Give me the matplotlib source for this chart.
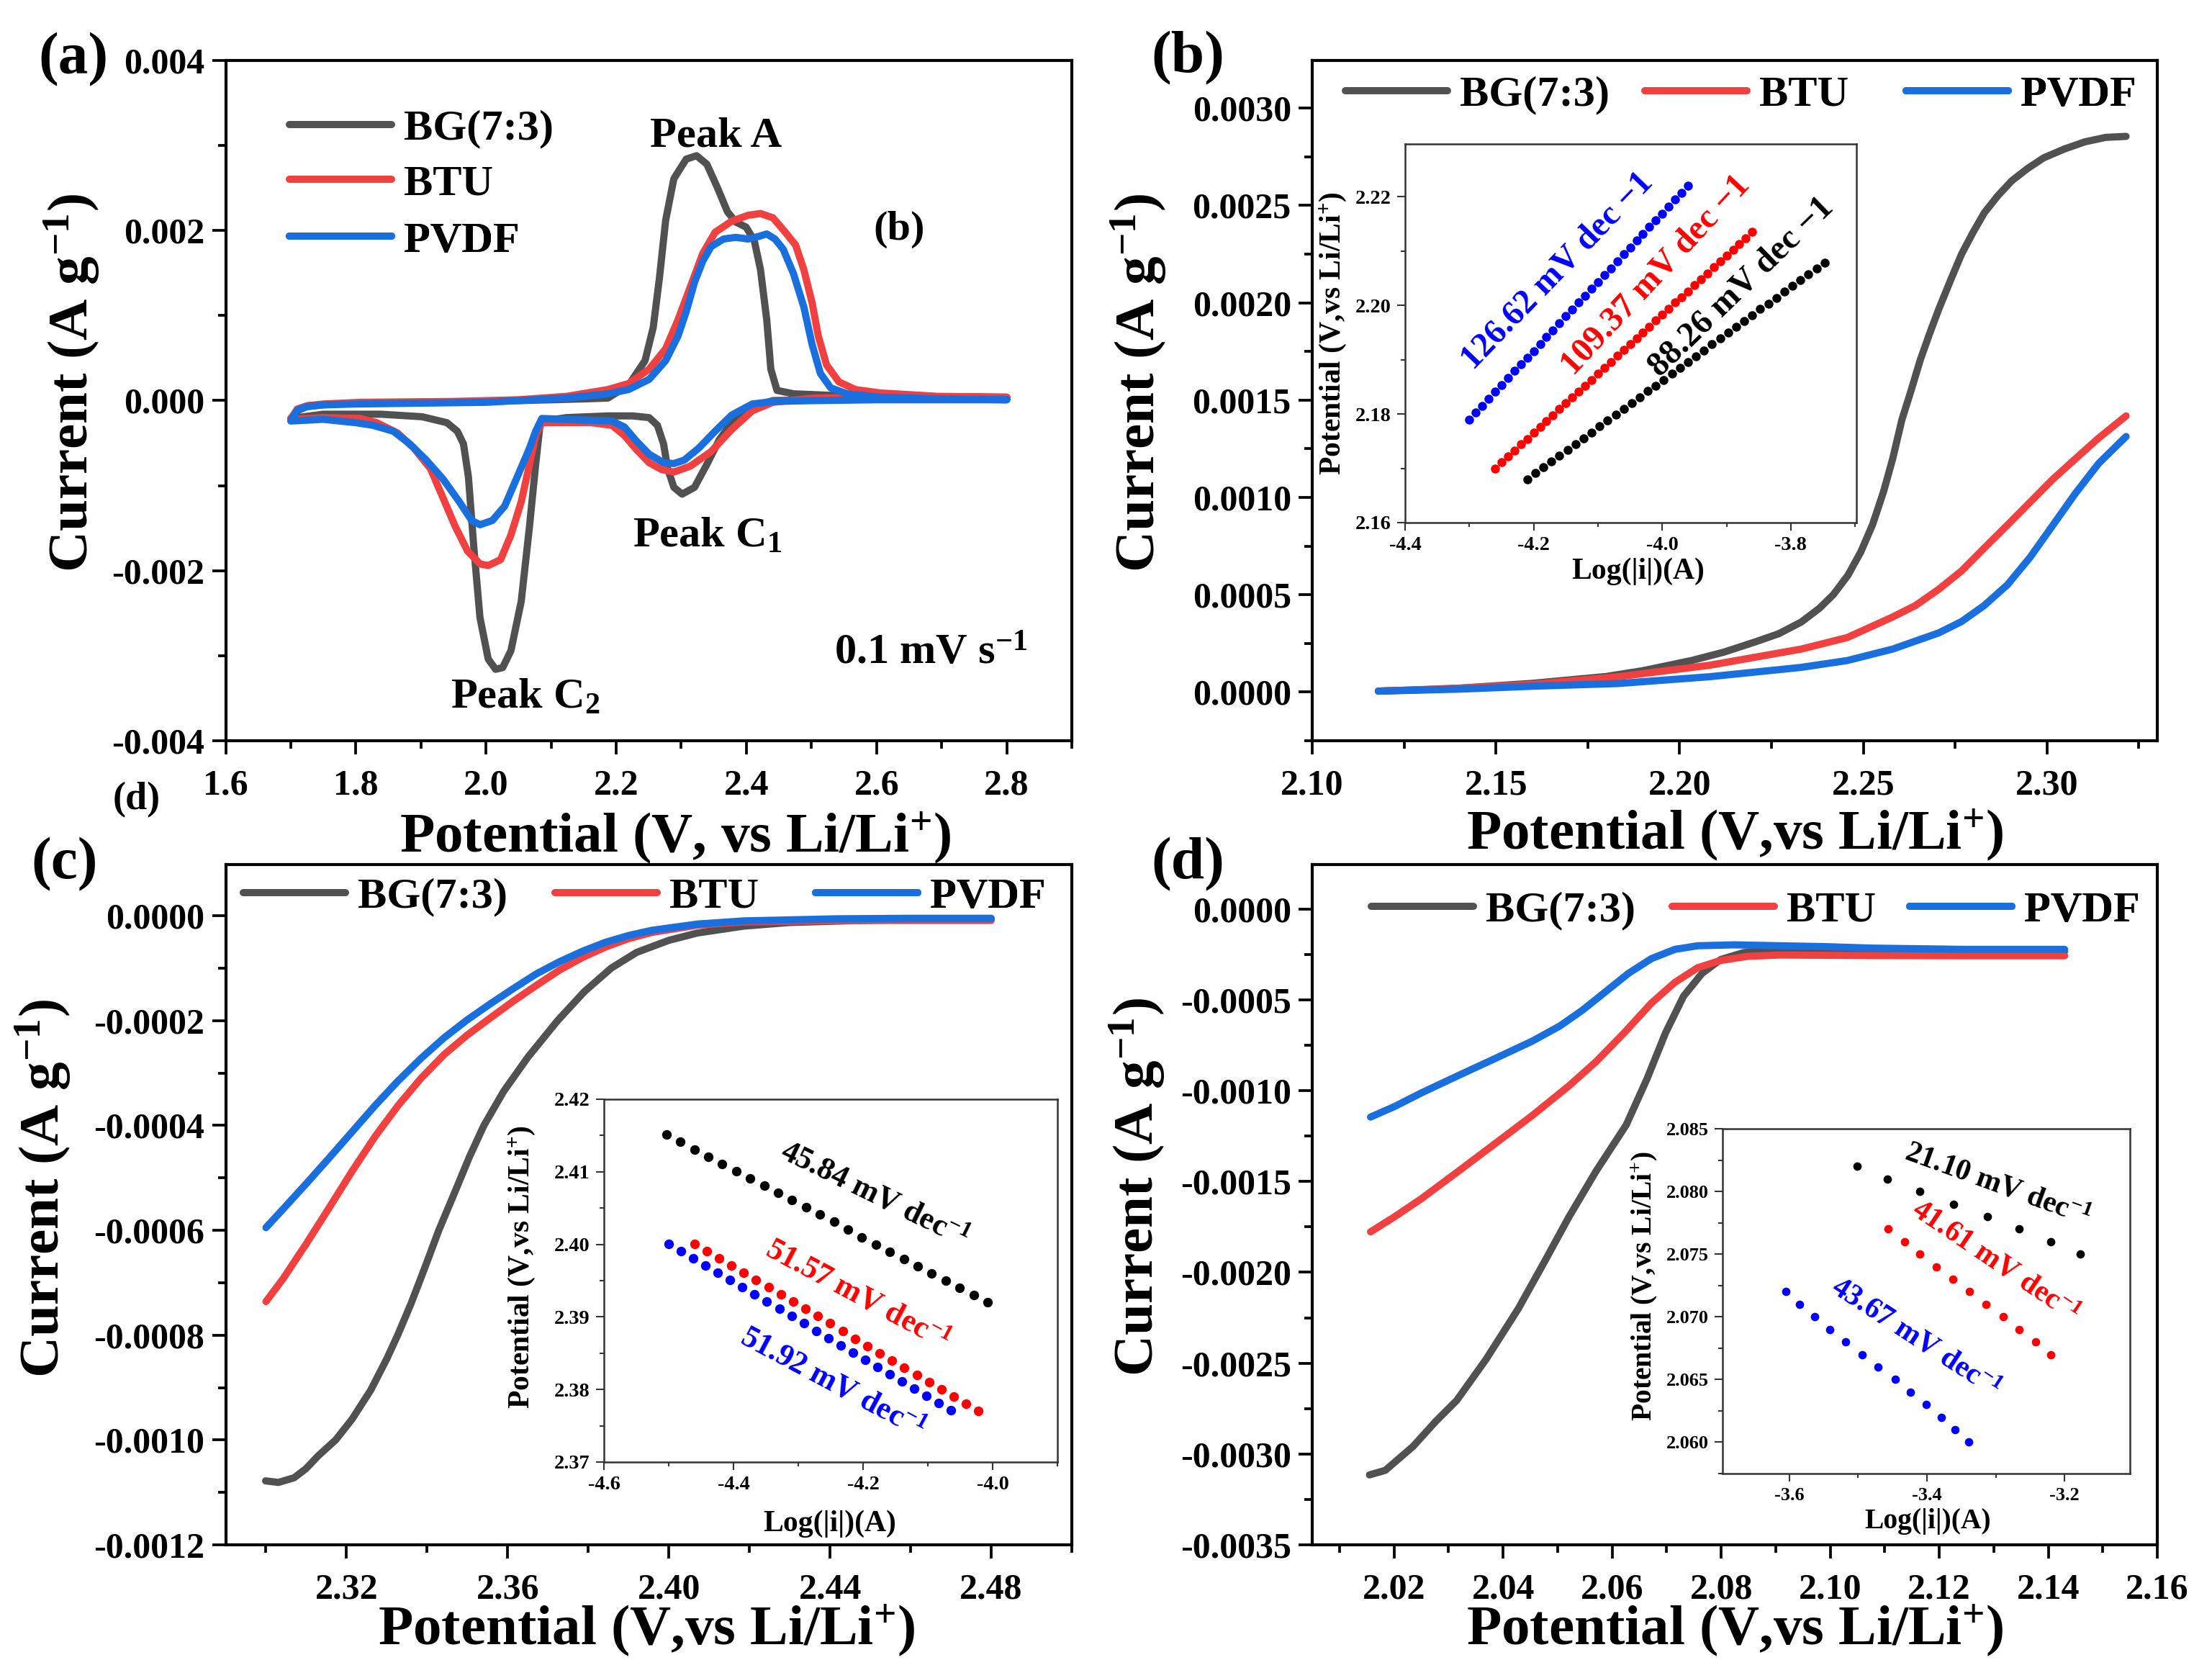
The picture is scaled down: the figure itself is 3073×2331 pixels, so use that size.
import matplotlib
matplotlib.use('Agg')
import matplotlib.pyplot as plt
from matplotlib.ticker import MultipleLocator, FuncFormatter

# ---------------- data ----------------
# (a) CV curves: cathodic sweep (2.8 -> 1.7 V) followed by anodic sweep (1.7 -> 2.8 V)
a_bg_v = [2.800, 2.600, 2.500, 2.4408, 2.4091, 2.3774, 2.3584, 2.3393, 2.3203, 2.3013, 2.2886, 2.2791,
          2.2728, 2.2633, 2.2506, 2.2252, 2.1872, 2.1238, 2.0858, 2.0826, 2.0763, 2.0668, 2.0541, 2.0383,
          2.0256, 2.0148, 2.0034, 1.9907, 1.9812, 1.9730, 1.9654, 1.9559, 1.9400, 1.9020, 1.8386, 1.7500,
          1.7000,
          1.7100, 1.7250, 1.7500, 1.8000, 1.9000, 2.0000, 2.1000, 2.1500, 2.1872, 2.2189, 2.2443, 2.2569,
          2.2664, 2.2760, 2.2886, 2.3076, 2.3235, 2.3393, 2.3552, 2.3710, 2.3837, 2.3996, 2.4122, 2.4217,
          2.4313, 2.4376, 2.4471, 2.4725, 2.5675, 2.7000, 2.8000]
a_bg_i = [0.00002, 0.00002, 0.00001, 0.0, -0.00007, -0.00026, -0.00046, -0.00075, -0.00102, -0.00110,
          -0.00102, -0.00080, -0.00051, -0.00029, -0.00020, -0.00018, -0.00018, -0.00020, -0.00024, -0.00031,
          -0.00075, -0.00148, -0.00236, -0.00294, -0.00314, -0.00316, -0.00304, -0.00255, -0.00172, -0.00090,
          -0.00051, -0.00036, -0.00026, -0.00019, -0.00016, -0.00016, -0.00021,
          -0.00012, -0.00007, -0.00005, -0.00003, -0.00002, -0.00001, 0.00001, 0.00002, 0.00003, 0.00018,
          0.00047, 0.00086, 0.00144, 0.00212, 0.00261, 0.00284, 0.00288, 0.00278, 0.00251, 0.00222, 0.00210,
          0.00204, 0.00188, 0.00154, 0.00095, 0.00037, 0.00012, 0.00008, 0.00005, 0.00003, 0.00002]

a_btu_v = [2.800, 2.600, 2.5042, 2.4408, 2.4091, 2.3774, 2.3457, 2.3140, 2.2886, 2.2696, 2.2506, 2.2316,
           2.2126, 2.1935, 2.1619, 2.1238, 2.0858, 2.0763, 2.0668, 2.0541, 2.0383, 2.0224, 2.0034, 1.9907,
           1.9717, 1.9527, 1.9337, 1.9146, 1.8893, 1.8639, 1.8322, 1.8069, 1.7500, 1.7000,
           1.7100, 1.7250, 1.7500, 1.8069, 1.9500, 2.0500, 2.1238, 2.1872, 2.2189, 2.2506, 2.2760, 2.2950,
           2.3140, 2.3330, 2.3520, 2.3774, 2.4027, 2.4217, 2.4408, 2.4598, 2.4756, 2.4883, 2.5010, 2.5105,
           2.5232, 2.5422, 2.5675, 2.6056, 2.6943, 2.8000]
a_btu_i = [0.00004, 0.00004, 0.00003, -0.00002, -0.00012, -0.00034, -0.00060, -0.00077, -0.00084, -0.00081,
           -0.00073, -0.00058, -0.00041, -0.00029, -0.00026, -0.00026, -0.00026, -0.00041, -0.00075, -0.00119,
           -0.00158, -0.00187, -0.00194, -0.00192, -0.00177, -0.00148, -0.00114, -0.00080, -0.00056, -0.00038,
           -0.00026, -0.00021, -0.00020, -0.00022,
           -0.00010, -0.00006, -0.00004, -0.00002, -0.00001, 0.00001, 0.00005, 0.00013, 0.00020, 0.00037,
           0.00061, 0.00095, 0.00134, 0.00173, 0.00198, 0.00211, 0.00218, 0.00220, 0.00215, 0.00198, 0.00183,
           0.00154, 0.00115, 0.00076, 0.00042, 0.00022, 0.00013, 0.00009, 0.00005, 0.00004]

a_pvdf_v = [2.800, 2.600, 2.5042, 2.4408, 2.4091, 2.3774, 2.3520, 2.3267, 2.3045, 2.2886, 2.2728, 2.2506,
            2.2316, 2.2126, 2.1935, 2.1555, 2.0858, 2.0763, 2.0668, 2.0478, 2.0287, 2.0097, 1.9907, 1.9780,
            1.9590, 1.9337, 1.9083, 1.8830, 1.8576, 1.8259, 1.8000, 1.7500, 1.7000,
            1.7100, 1.7250, 1.7500, 1.8000, 2.0000, 2.1238, 2.1872, 2.2189, 2.2506, 2.2760, 2.2950, 2.3077,
            2.3203, 2.3330, 2.3457, 2.3647, 2.3837, 2.4027, 2.4186, 2.4313, 2.4440, 2.4566, 2.4725, 2.4883,
            2.5010, 2.5137, 2.5295, 2.5549, 2.6056, 2.7000, 2.8000]
a_pvdf_i = [0.00001, 0.00001, 0.0, -0.00001, -0.00004, -0.00017, -0.00036, -0.00056, -0.00070, -0.00074,
            -0.00073, -0.00063, -0.00048, -0.00031, -0.00024, -0.00023, -0.00021, -0.00036, -0.00056, -0.00090,
            -0.00124, -0.00141, -0.00146, -0.00141, -0.00119, -0.00092, -0.00070, -0.00051, -0.00036, -0.00029,
            -0.00026, -0.00022, -0.00024,
            -0.00011, -0.00007, -0.00005, -0.00004, -0.00002, 0.00003, 0.00008, 0.00013, 0.00025, 0.00047,
            0.00076, 0.00105, 0.00139, 0.00164, 0.00181, 0.00190, 0.00192, 0.00190, 0.00193, 0.00196, 0.00190,
            0.00178, 0.00149, 0.00110, 0.00066, 0.00032, 0.00015, 0.00008, 0.00004, 0.00002, 0.00001]

# (b) anodic LSV
b_bg_v = [2.118, 2.130, 2.140, 2.160, 2.180, 2.190, 2.2032, 2.2120, 2.2206, 2.2270, 2.2331, 2.2380, 2.2418,
          2.2458, 2.2493, 2.2525, 2.2555, 2.2580, 2.2605, 2.2630, 2.2655, 2.2680, 2.2705, 2.2736, 2.2767,
          2.2798, 2.2829, 2.2866, 2.2904, 2.2947, 2.2991, 2.3047, 2.3103, 2.3160, 2.3215]
b_bg_i = [0.000005, 0.000012, 0.00002, 0.000045, 0.00008, 0.00011, 0.000162, 0.000205, 0.000258, 0.00030,
          0.00036, 0.00043, 0.00050, 0.00060, 0.00072, 0.00086, 0.00103, 0.00120, 0.00140, 0.00155, 0.001707,
          0.00184, 0.001966, 0.00211, 0.002249, 0.00236, 0.002462, 0.00255, 0.002627, 0.00269, 0.002745,
          0.00279, 0.002827, 0.00285, 0.002855]
b_btu_v = [2.118, 2.140, 2.160, 2.1833, 2.2082, 2.2331, 2.2456, 2.2580, 2.2642, 2.2705, 2.2767, 2.2829,
           2.2892, 2.2954, 2.3016, 2.3078, 2.3141, 2.3215]
b_btu_i = [0.000005, 0.00002, 0.00004, 0.000079, 0.000138, 0.000221, 0.00028, 0.000386, 0.000445, 0.000528,
           0.000622, 0.00074, 0.000858, 0.000976, 0.001094, 0.0012, 0.001306, 0.001419]
b_pvdf_v = [2.118, 2.140, 2.160, 2.1833, 2.2082, 2.2331, 2.2456, 2.2580, 2.2705, 2.2767, 2.2829, 2.2892,
            2.2954, 2.3016, 2.3078, 2.3141, 2.3215]
b_pvdf_i = [0.000005, 0.000015, 0.00003, 0.000044, 0.000079, 0.000127, 0.000162, 0.000221, 0.000304,
            0.000362, 0.000445, 0.000551, 0.000693, 0.000858, 0.001023, 0.001176, 0.001313]

# (b) inset Tafel
bi_blue_x = [-4.30, -4.29, -4.28, -4.27, -4.26, -4.25, -4.24, -4.23, -4.22, -4.21, -4.20, -4.19, -4.18,
             -4.17, -4.16, -4.15, -4.14, -4.13, -4.12, -4.11, -4.10, -4.09, -4.08, -4.07, -4.06, -4.05,
             -4.04, -4.03, -4.02, -4.01, -4.00, -3.99, -3.98, -3.97, -3.96]
bi_blue_y = [2.1790, 2.1803, 2.1815, 2.1828, 2.1841, 2.1853, 2.1866, 2.1879, 2.1891, 2.1904, 2.1916, 2.1929,
             2.1942, 2.1954, 2.1967, 2.1980, 2.1992, 2.2005, 2.2018, 2.2030, 2.2043, 2.2056, 2.2068, 2.2081,
             2.2094, 2.2106, 2.2119, 2.2131, 2.2144, 2.2157, 2.2169, 2.2182, 2.2195, 2.2207, 2.2220]
bi_red_x = [-4.26, -4.25, -4.24, -4.23, -4.22, -4.21, -4.20, -4.19, -4.18, -4.17, -4.16, -4.15, -4.14,
            -4.13, -4.12, -4.11, -4.10, -4.09, -4.08, -4.07, -4.06, -4.05, -4.04, -4.03, -4.02, -4.01,
            -4.00, -3.99, -3.98, -3.97, -3.96, -3.95, -3.94, -3.93, -3.92, -3.91, -3.90, -3.89, -3.88,
            -3.87, -3.86]
bi_red_y = [2.1700, 2.1711, 2.1722, 2.1733, 2.1744, 2.1754, 2.1765, 2.1776, 2.1787, 2.1798, 2.1809, 2.1820,
            2.1831, 2.1841, 2.1852, 2.1863, 2.1874, 2.1885, 2.1896, 2.1907, 2.1918, 2.1928, 2.1939, 2.1950,
            2.1961, 2.1972, 2.1983, 2.1994, 2.2005, 2.2015, 2.2026, 2.2037, 2.2048, 2.2059, 2.2070, 2.2081,
            2.2092, 2.2102, 2.2113, 2.2124, 2.2135]
bi_black_x = [-4.2100, -4.1975, -4.1850, -4.1725, -4.1600, -4.1475, -4.1350, -4.1225, -4.1100, -4.0975,
              -4.0850, -4.0725, -4.0600, -4.0475, -4.0350, -4.0225, -4.0100, -3.9975, -3.9850, -3.9725,
              -3.9600, -3.9475, -3.9350, -3.9225, -3.9100, -3.8975, -3.8850, -3.8725, -3.8600, -3.8475,
              -3.8350, -3.8225, -3.8100, -3.7975, -3.7850, -3.7725, -3.7600, -3.7475]
bi_black_y = [2.1680, 2.1691, 2.1702, 2.1712, 2.1723, 2.1734, 2.1745, 2.1755, 2.1766, 2.1777, 2.1788, 2.1799,
              2.1809, 2.1820, 2.1831, 2.1842, 2.1852, 2.1863, 2.1874, 2.1885, 2.1896, 2.1906, 2.1917, 2.1928,
              2.1939, 2.1950, 2.1960, 2.1971, 2.1982, 2.1993, 2.2003, 2.2014, 2.2025, 2.2036, 2.2047, 2.2057,
              2.2068, 2.2079]
bi_slopes = ['126.62 mV dec \u22121', '109.37 mV dec \u22121', '88.26 mV dec \u22121']

# (c) cathodic LSV (C1 region)
c_bg_v = [2.2999, 2.3031, 2.3070, 2.3099, 2.3130, 2.3173, 2.3214, 2.3260, 2.3300, 2.3327, 2.3360, 2.3395,
          2.3429, 2.3470, 2.3505, 2.3541, 2.3590, 2.3650, 2.3724, 2.3790, 2.3857, 2.3920, 2.4000, 2.4071,
          2.4185, 2.4299, 2.4528, 2.4800]
c_bg_i = [-0.001078, -0.001081, -0.001072, -0.001055, -0.001030, -0.001000, -0.000960, -0.000905, -0.000845,
          -0.000800, -0.000740, -0.000670, -0.000600, -0.000525, -0.000460, -0.000400, -0.000335, -0.000270,
          -0.000200, -0.000145, -0.000100, -0.000070, -0.000047, -0.000033, -0.000020, -0.000013, -0.000008,
          -0.000007]
c_btu_v = [2.3000, 2.3042, 2.3099, 2.3157, 2.3214, 2.3271, 2.3328, 2.3385, 2.3442, 2.3499, 2.3557, 2.3614,
           2.3671, 2.3728, 2.3785, 2.3842, 2.3899, 2.3957, 2.4071, 2.4185, 2.4414, 2.4600, 2.4800]
c_btu_i = [-0.000736, -0.000693, -0.000627, -0.000557, -0.000487, -0.000421, -0.000362, -0.000310, -0.000265,
           -0.000228, -0.000195, -0.000163, -0.000133, -0.000104, -0.000080, -0.000060, -0.000044, -0.000032,
           -0.000018, -0.000012, -0.0000095, -0.000009, -0.000009]
c_pvdf_v = [2.3000, 2.3042, 2.3099, 2.3157, 2.3214, 2.3271, 2.3328, 2.3385, 2.3442, 2.3499, 2.3557, 2.3614,
            2.3671, 2.3728, 2.3785, 2.3842, 2.3899, 2.3957, 2.4071, 2.4185, 2.4414, 2.4600, 2.4800]
c_pvdf_i = [-0.000595, -0.000560, -0.000512, -0.000462, -0.000412, -0.000362, -0.000315, -0.000272, -0.000233,
            -0.000199, -0.000168, -0.000139, -0.000111, -0.000088, -0.000068, -0.000051, -0.000038, -0.000028,
            -0.000016, -0.000010, -0.000006, -0.000005, -0.000005]

# (c) inset Tafel
ci_black_x = [-4.5036, -4.4820, -4.4605, -4.4389, -4.4174, -4.3958, -4.3742, -4.3527, -4.3311, -4.3096,
              -4.2880, -4.2664, -4.2449, -4.2233, -4.2018, -4.1802, -4.1586, -4.1371, -4.1155, -4.0940,
              -4.0724, -4.0508, -4.0293, -4.0077]
ci_black_y = [2.4151, 2.4141, 2.4131, 2.4121, 2.4111, 2.4101, 2.4091, 2.4081, 2.4071, 2.4061, 2.4051, 2.4041,
              2.4031, 2.4020, 2.4010, 2.4000, 2.3990, 2.3980, 2.3970, 2.3960, 2.3950, 2.3940, 2.3930, 2.3920]
ci_red_x = [-4.4603, -4.4412, -4.4222, -4.4031, -4.3840, -4.3650, -4.3459, -4.3268, -4.3078, -4.2887,
            -4.2697, -4.2506, -4.2315, -4.2125, -4.1934, -4.1743, -4.1553, -4.1362, -4.1171, -4.0981,
            -4.0790, -4.0599, -4.0409, -4.0218]
ci_red_y = [2.4001, 2.3991, 2.3981, 2.3971, 2.3961, 2.3951, 2.3941, 2.3931, 2.3921, 2.3911, 2.3901, 2.3891,
            2.3881, 2.3870, 2.3860, 2.3850, 2.3840, 2.3830, 2.3820, 2.3810, 2.3800, 2.3790, 2.3780, 2.3770]
ci_blue_x = [-4.5001, -4.4811, -4.4622, -4.4432, -4.4242, -4.4053, -4.3863, -4.3673, -4.3484, -4.3294,
             -4.3104, -4.2915, -4.2725, -4.2535, -4.2346, -4.2156, -4.1966, -4.1777, -4.1587, -4.1397,
             -4.1208, -4.1018, -4.0828, -4.0639]
ci_blue_y = [2.4001, 2.3991, 2.3981, 2.3971, 2.3961, 2.3951, 2.3941, 2.3931, 2.3921, 2.3911, 2.3901, 2.3891,
             2.3881, 2.3871, 2.3861, 2.3851, 2.3841, 2.3831, 2.3821, 2.3811, 2.3801, 2.3791, 2.3781, 2.3771]
ci_slopes = ['45.84 mV dec$^{-1}$', '51.57 mV dec$^{-1}$', '51.92 mV dec$^{-1}$']

# (d) cathodic LSV (C2 region)
d_bg_v = [2.0155, 2.0184, 2.0235, 2.0277, 2.0315, 2.0369, 2.0428, 2.0475, 2.0521, 2.0571, 2.0626, 2.0664,
          2.0698, 2.0731, 2.0765, 2.0799, 2.0841, 2.0908, 2.0992, 2.1077, 2.1245, 2.1430]
d_bg_i = [-0.003115, -0.00309, -0.002958, -0.002819, -0.002705, -0.002478, -0.0022, -0.001947, -0.001694,
          -0.001441, -0.001188, -0.000935, -0.000682, -0.00048, -0.000354, -0.000278, -0.00024, -0.000222,
          -0.000217, -0.000222, -0.000232, -0.000232]
d_btu_v = [2.0157, 2.0201, 2.0251, 2.0319, 2.0386, 2.0453, 2.0521, 2.0571, 2.0622, 2.0672, 2.0715, 2.0757,
           2.0799, 2.0849, 2.0908, 2.1077, 2.1245, 2.1430]
d_btu_i = [-0.001777, -0.001694, -0.001593, -0.001441, -0.00129, -0.001138, -0.000973, -0.000839, -0.000682,
           -0.000518, -0.000404, -0.000323, -0.000283, -0.00026, -0.000253, -0.000256, -0.000257, -0.000257]
d_pvdf_v = [2.0157, 2.0201, 2.0251, 2.0319, 2.0386, 2.0453, 2.0504, 2.0546, 2.0588, 2.0630, 2.0672, 2.0715,
            2.0757, 2.0824, 2.0908, 2.0992, 2.1077, 2.1245, 2.1430]
d_pvdf_i = [-0.001145, -0.001087, -0.001011, -0.000915, -0.000822, -0.000728, -0.000644, -0.000556, -0.000455,
            -0.000354, -0.000273, -0.000222, -0.000202, -0.000197, -0.000202, -0.000207, -0.000215, -0.000222,
            -0.000222]

# (d) inset Tafel
di_black_x = [-3.501, -3.4575, -3.4107, -3.3612, -3.3124, -3.2656, -3.2201, -3.1773]
di_black_y = [2.082, 2.081, 2.080, 2.079, 2.078, 2.077, 2.076, 2.075]
di_red_x = [-3.4562, -3.4328, -3.4100, -3.3860, -3.3619, -3.3378, -3.3137, -3.2890, -3.2656, -3.2421, -3.2201]
di_red_y = [2.077, 2.076, 2.075, 2.074, 2.073, 2.072, 2.071, 2.070, 2.069, 2.068, 2.067]
di_blue_x = [-3.6054, -3.5853, -3.5632, -3.5411, -3.5177, -3.4943, -3.4709, -3.4462, -3.4241, -3.4007,
             -3.3793, -3.3592, -3.3391]
di_blue_y = [2.072, 2.071, 2.070, 2.069, 2.068, 2.067, 2.066, 2.065, 2.064, 2.063, 2.062, 2.061, 2.060]
di_slopes = ['21.10 mV dec$^{-1}$', '41.61 mV dec$^{-1}$', '43.67 mV dec$^{-1}$']

series_names = ['BG(7:3)', 'BTU', 'PVDF']
line_colors = ['#515151', '#F14040', '#1A6FDF']
dot_colors = ['#000000', '#FF0000', '#0000FF']

# ---------------- style ----------------
plt.rcParams['font.family'] = ['Liberation Serif', 'DejaVu Serif']
plt.rcParams['font.weight'] = 'bold'
plt.rcParams['mathtext.default'] = 'regular'
plt.rcParams['axes.unicode_minus'] = False

W, H, DPI = 3073, 2331, 300
fig = plt.figure(figsize=(W / DPI, H / DPI), dpi=DPI)


def box(l, t, r, b):
    return [l / W, 1 - b / H, (r - l) / W, (b - t) / H]


def ftext(x, y, s, **kw):
    kw.setdefault('ha', 'center')
    kw.setdefault('va', 'center')
    kw.setdefault('weight', 'bold')
    return fig.text(x / W, 1 - y / H, s, **kw)


def fmt(nd):
    def f(v, p):
        s = f'{v:.{nd}f}'
        if s.startswith('-') and float(s) == 0:
            s = s[1:]
        return s
    return FuncFormatter(f)


def style_main(ax, xmaj, xmin, xnd, ymaj, ymin, ynd):
    ax.xaxis.set_major_locator(MultipleLocator(xmaj))
    ax.xaxis.set_minor_locator(MultipleLocator(xmin))
    ax.yaxis.set_major_locator(MultipleLocator(ymaj))
    ax.yaxis.set_minor_locator(MultipleLocator(ymin))
    ax.xaxis.set_major_formatter(fmt(xnd))
    ax.yaxis.set_major_formatter(fmt(ynd))
    for s in ax.spines.values():
        s.set_linewidth(1.0)
    ax.tick_params(which='both', direction='out', top=False, right=False, width=0.9)
    ax.tick_params(which='major', length=4.5, labelsize=12)
    ax.tick_params(which='minor', length=2.6)
    ax.tick_params(axis='x', which='major', pad=5)
    ax.tick_params(axis='y', which='major', pad=2.5)


def style_inset(ax, xmaj, xmin, xnd, ymaj, ymin, ynd, lsize=6.8):
    ax.xaxis.set_major_locator(MultipleLocator(xmaj))
    ax.xaxis.set_minor_locator(MultipleLocator(xmin))
    ax.yaxis.set_major_locator(MultipleLocator(ymaj))
    ax.yaxis.set_minor_locator(MultipleLocator(ymin))
    ax.xaxis.set_major_formatter(fmt(xnd))
    ax.yaxis.set_major_formatter(fmt(ynd))
    for s in ax.spines.values():
        s.set_linewidth(0.6)
        s.set_color('#333333')
    ax.tick_params(which='both', direction='out', top=False, right=False, width=0.5, colors='#333333',
                   labelcolor='black')
    ax.tick_params(which='major', length=2.6, labelsize=lsize, pad=2)
    ax.tick_params(which='minor', length=1.5)


def leg(ax, line, label, x, y):
    lg = ax.legend([line], [label], loc='center left', bbox_to_anchor=(x / W, 1 - y / H),
                   bbox_transform=fig.transFigure, frameon=False, borderpad=0, borderaxespad=0,
                   handlelength=2.35, handletextpad=0.28, prop=dict(weight='bold', size=14.5))
    ax.add_artist(lg)


LW = 2.4


def draw_lines(ax, vs, Is):
    lines = []
    for v, i, c in zip(vs, Is, line_colors):
        ln, = ax.plot(v, i, color=c, lw=LW, solid_capstyle='round', solid_joinstyle='round')
        lines.append(ln)
    return lines


# ---------------- (a) ----------------
axa = fig.add_axes(box(313.5, 84, 1489, 1029))
la = draw_lines(axa, [a_bg_v, a_btu_v, a_pvdf_v], [a_bg_i, a_btu_i, a_pvdf_i])
axa.set_xlim(1.6, 2.9)
axa.set_ylim(-0.004, 0.004)
style_main(axa, 0.2, 0.1, 1, 0.002, 0.001, 3)
for ln, nm, yy in zip(la, series_names, [179, 256, 335]):
    leg(axa, ln, nm, 402, yy)
ftext(995, 189, 'Peak A', fontsize=14.5)
ftext(983, 746, 'Peak C$_1$', fontsize=14.5)
ftext(730, 970, 'Peak C$_2$', fontsize=14.5)
ftext(1249, 319, '(b)', fontsize=14)
ftext(1293, 908, '0.1 mV s$^{-1}$', fontsize=14.5)
ftext(190, 1111, '(d)', fontsize=13)

# ---------------- (b) ----------------
axb = fig.add_axes(box(1823, 84, 2997, 1029))
lb = draw_lines(axb, [b_bg_v, b_btu_v, b_pvdf_v], [b_bg_i, b_btu_i, b_pvdf_i])
axb.set_xlim(2.10, 2.33)
axb.set_ylim(-0.00025, 0.003245)
style_main(axb, 0.05, 0.025, 2, 0.0005, 0.00025, 4)
for ln, nm, xx in zip(lb, series_names, [1869, 2285, 2648]):
    leg(axb, ln, nm, xx, 132)

axbi = fig.add_axes(box(1952, 200, 2579, 726))
for x, y, c in zip([bi_black_x, bi_red_x, bi_blue_x], [bi_black_y, bi_red_y, bi_blue_y], dot_colors):
    axbi.plot(x, y, 'o', color=c, ms=3.0, mew=0)
axbi.set_xlim(-4.4, -3.698)
axbi.set_ylim(2.16, 2.2297)
style_inset(axbi, 0.2, 0.1, 1, 0.02, 0.01, 2)
ftext(2164, 376, bi_slopes[0], color=dot_colors[2], fontsize=11.5, rotation=46, rotation_mode='anchor')
ftext(2300, 382, bi_slopes[1], color=dot_colors[1], fontsize=11.5, rotation=47, rotation_mode='anchor')
ftext(2419, 399, bi_slopes[2], color=dot_colors[0], fontsize=11.5, rotation=44, rotation_mode='anchor')
ftext(1852, 463, 'Potential (V,vs Li/Li$^{+}$)', fontsize=10, rotation=90)
ftext(2276, 794, 'Log(|i|)(A)', fontsize=10)

# ---------------- (c) ----------------
axc = fig.add_axes(box(313.5, 1201, 1489, 2146))
lc = draw_lines(axc, [c_bg_v, c_btu_v, c_pvdf_v], [c_bg_i, c_btu_i, c_pvdf_i])
axc.set_xlim(2.29, 2.50)
axc.set_ylim(-0.0012, 0.0000975)
style_main(axc, 0.04, 0.02, 2, 0.0002, 0.0001, 4)
for ln, nm, xx in zip(lc, series_names, [338, 771, 1133]):
    leg(axc, ln, nm, xx, 1246)

axci = fig.add_axes(box(839, 1527, 1469, 2031))
for x, y, c in zip([ci_black_x, ci_red_x, ci_blue_x], [ci_black_y, ci_red_y, ci_blue_y], dot_colors):
    axci.plot(x, y, 'o', color=c, ms=3.2, mew=0)
axci.set_xlim(-4.6, -3.90)
axci.set_ylim(2.37, 2.42)
style_inset(axci, 0.2, 0.1, 1, 0.01, 0.005, 2)
ftext(1215, 1660, ci_slopes[0], color=dot_colors[0], fontsize=10.5, rotation=-26, rotation_mode='anchor')
ftext(1191, 1799, ci_slopes[1], color=dot_colors[1], fontsize=10.5, rotation=-28, rotation_mode='anchor')
ftext(1157, 1921, ci_slopes[2], color=dot_colors[2], fontsize=10.5, rotation=-28, rotation_mode='anchor')
ftext(725, 1760, 'Potential (V,vs Li/Li$^{+}$)', fontsize=10, rotation=90)
ftext(1153, 2117, 'Log(|i|)(A)', fontsize=10)

# ---------------- (d) ----------------
axd = fig.add_axes(box(1823, 1201, 2997, 2146))
ld = draw_lines(axd, [d_bg_v, d_btu_v, d_pvdf_v], [d_bg_i, d_btu_i, d_pvdf_i])
axd.set_xlim(2.005, 2.16)
axd.set_ylim(-0.0035, 0.000245)
style_main(axd, 0.02, 0.01, 2, 0.0005, 0.00025, 4)
for ln, nm, xx in zip(ld, series_names, [1905, 2323, 2653]):
    leg(axd, ln, nm, xx, 1265)

axdi = fig.add_axes(box(2393, 1568, 2959, 2047))
for x, y, c in zip([di_black_x, di_red_x, di_blue_x], [di_black_y, di_red_y, di_blue_y], dot_colors):
    axdi.plot(x, y, 'o', color=c, ms=2.8, mew=0)
axdi.set_xlim(-3.697, -3.105)
axdi.set_ylim(2.0575, 2.085)
style_inset(axdi, 0.2, 0.1, 1, 0.005, 0.0025, 3, lsize=6.3)
ftext(2775, 1647, di_slopes[0], color=dot_colors[0], fontsize=10, rotation=-20, rotation_mode='anchor')
ftext(2771, 1754, di_slopes[1], color=dot_colors[1], fontsize=10, rotation=-34, rotation_mode='anchor')
ftext(2661, 1859, di_slopes[2], color=dot_colors[2], fontsize=10, rotation=-33, rotation_mode='anchor')
ftext(2284, 1787, 'Potential (V,vs Li/Li$^{+}$)', fontsize=9.5, rotation=90)
ftext(2678, 2114, 'Log(|i|)(A)', fontsize=9.5)

# ---------------- axis labels & panel letters ----------------
ylab = 'Current (A g$^{-1}$)'
ftext(100, 532, ylab, fontsize=19, rotation=90)
ftext(1582, 532, ylab, fontsize=19, rotation=90)
ftext(60, 1651, ylab, fontsize=19, rotation=90)
ftext(1580, 1649, ylab, fontsize=19, rotation=90)
ftext(938, 1164, 'Potential (V, vs Li/Li$^{+}$)', fontsize=19)
ftext(2410, 1160, 'Potential (V,vs Li/Li$^{+}$)', fontsize=19)
ftext(898, 2265, 'Potential (V,vs Li/Li$^{+}$)', fontsize=19)
ftext(2410, 2265, 'Potential (V,vs Li/Li$^{+}$)', fontsize=19)

ftext(102, 83, '(a)', fontsize=20)
ftext(1650, 81, '(b)', fontsize=20)
ftext(90, 1201, '(c)', fontsize=20)
ftext(1650, 1201, '(d)', fontsize=20)

fig.savefig('out.png', dpi=DPI, facecolor='white')
